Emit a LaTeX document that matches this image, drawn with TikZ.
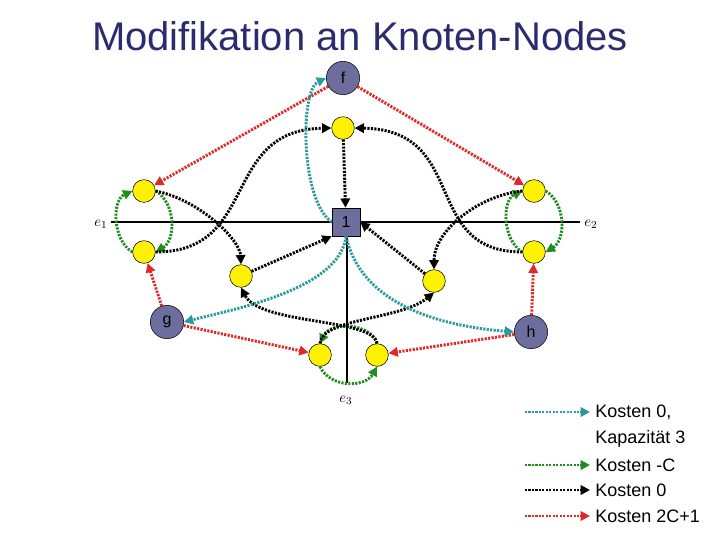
\documentclass[tikz,border=0pt]{standalone}
\usepackage{fontspec}
\setmainfont{Liberation Sans}
\usetikzlibrary{arrows.meta}
\definecolor{nodeb}{HTML}{6E6E9E}
\definecolor{teal2}{HTML}{2A9A9A}
\definecolor{grn}{HTML}{1F8C1F}
\definecolor{rd}{HTML}{E02828}
\definecolor{titleb}{HTML}{2B2B6E}
\tikzset{
 big/.style={circle,draw=black,fill=nodeb,minimum size=25pt,inner sep=0pt,font=\fontsize{12}{12}\selectfont},
 yel/.style={circle,draw=black,fill=yellow,minimum size=17pt,inner sep=0pt},
 sq/.style={rectangle,draw=black,fill=nodeb,minimum size=21pt,inner sep=0pt,font=\fontsize{12}{12}\selectfont},
 ed/.style={line width=2.2pt,dash pattern=on 1.6pt off 1pt,-{Triangle[length=7pt,width=7pt]}},
 tl/.style={ed,teal2},
 gr/.style={ed,grn},
 rr/.style={ed,rd},
 bk/.style={ed,black},
 axl/.style={line width=2pt,black},
 lab/.style={font=\itshape\fontsize{11}{11}\selectfont},
 leg/.style={anchor=west,font=\fontsize{13.5}{13.5}\selectfont,inner sep=0pt}
}
\begin{document}
\begin{tikzpicture}[x=0.75pt,y=-0.75pt]
\useasboundingbox (0,0) rectangle (720,540);
\node[font=\fontsize{30}{30}\selectfont,text=titleb] (title) at (360,36) {Modifikation an Knoten-Nodes};
% axes
\coordinate (a1) at (111,222); \coordinate (a2) at (580,222); \coordinate (a3) at (347,383);
\coordinate (c) at (347,222); \coordinate (j) at (347,322);
\draw[axl] (a1) -- (a2); \draw[axl] (c) -- (a3);
\node[lab] (e1) at (101,224) {$e_1$};
\node[lab] (e2) at (591,224) {$e_2$};
\node[lab] (e3) at (346,400) {$e_3$};
% nodes
\node[big] (f) at (343,78) {f};
\node[big] (g) at (167,322) {g};
\node[big] (h) at (531,332) {h};
\node[sq] (one) at (346,222) {1};
\node[yel] (t) at (343,128) {};
\node[yel] (L1) at (144,191) {};
\node[yel] (L2) at (144,252) {};
\node[yel] (R1) at (534,191) {};
\node[yel] (R2) at (534,252) {};
\node[yel] (Li) at (241,276) {};
\node[yel] (Ri) at (434,281) {};
\node[yel] (B1) at (320,355) {};
\node[yel] (B2) at (377,355) {};
% red
\draw[rr] (f) -- (L1);
\draw[rr] (f) -- (R1);
\draw[rr] (g) -- (L2);
\draw[rr] (g) -- (B1);
\draw[rr] (h) -- (R2);
\draw[rr] (h) -- (B2);
% green
\draw[gr] (L2.west) .. controls (112,240) and (112,200) .. (L1.west);
\draw[gr] (L1.east) .. controls (176,203) and (176,240) .. (L2.east);
\draw[gr] (R2.west) .. controls (502,240) and (502,200) .. (R1.west);
\draw[gr] (R1.east) .. controls (566,203) and (566,240) .. (R2.east);
\draw[gr] (B1.south) .. controls (330,388) and (365,388) .. (B2.south);
\draw[gr] (B2.north) .. controls (370,322) and (330,322) .. (B1.north);
% black
\draw[bk] (t) -- (one);
\draw[bk] (L1.east) .. controls (200,200) and (240,240) .. (Li.north);
\draw[bk] (L2.east) .. controls (260,252) and (220,130) .. (t.west);
\draw[bk] (R2.west) .. controls (420,252) and (470,130) .. (t.east);
\draw[bk] (R1.west) .. controls (480,195) and (434,230) .. (Ri.north);
\draw[bk] (Li) -- (one.south west);
\draw[bk] (Ri) -- (one.east);
\draw[bk] (B1.north) .. controls (322,318) and (400,320) .. (Ri.south);
\draw[bk] (B2.north) .. controls (374,318) and (260,325) .. (Li.south);
% teal
\draw[tl] (one.west) .. controls (300,200) and (300,90) .. (f.west);
\draw[tl] (one.south) .. controls (340,290) and (230,310) .. (g.east);
\draw[tl] (one.south) .. controls (360,300) and (430,325) .. (h.west);
% legend
\coordinate (s1) at (525,412); \coordinate (t1) at (590,412);
\coordinate (s2) at (525,465); \coordinate (t2) at (590,465);
\coordinate (s3) at (525,490); \coordinate (t3) at (590,490);
\coordinate (s4) at (525,516); \coordinate (t4) at (590,516);
\draw[tl] (s1) -- (t1);
\draw[gr] (s2) -- (t2);
\draw[bk] (s3) -- (t3);
\draw[rr] (s4) -- (t4);
\node[leg] (k1) at (595,412) {Kosten 0,};
\node[leg] (k1b) at (595,439) {Kapazität 3};
\node[leg] (k2) at (595,465) {Kosten -C};
\node[leg] (k3) at (595,490) {Kosten 0};
\node[leg] (k4) at (595,516) {Kosten 2C+1};
\end{tikzpicture}
\end{document}
